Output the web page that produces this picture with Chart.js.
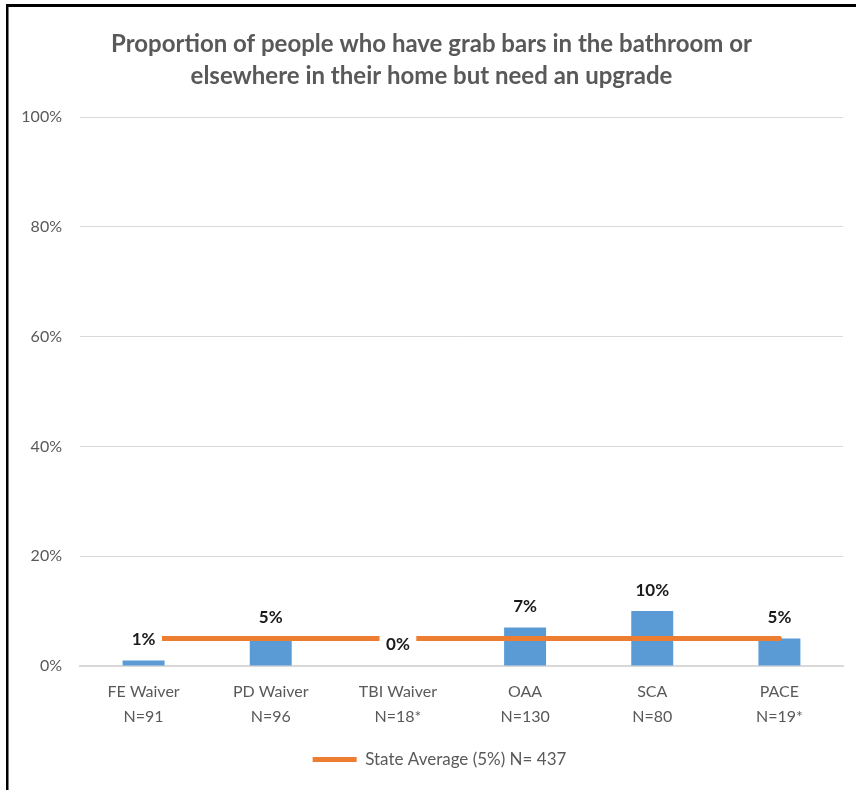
<!DOCTYPE html>
<html>
<head>
<meta charset="utf-8">
<script src="https://cdn.jsdelivr.net/npm/chart.js@4.4.1/dist/chart.umd.min.js"></script>
<style>
  html, body { margin: 0; padding: 0; background: #fff; }
  #wrap { width: 856px; height: 790px; }
</style>
</head>
<body>
<div id="wrap"><canvas id="myChart" width="856" height="790"></canvas></div>
<script>
// program groups, each label is two lines (name + sample size)
const categories = [
    ['FE Waiver', 'N=91'],
    ['PD Waiver', 'N=96'],
    ['TBI Waiver', 'N=18*'],
    ['OAA', 'N=130'],
    ['SCA', 'N=80'],
    ['PACE', 'N=19*']
];
const groupValues = [1, 5, 0, 7, 10, 5];
const stateAverage = [5, 5, 5, 5, 5, 5];
const yTickValues = [0, 20, 40, 60, 80, 100];

const FONT = "'Lato', 'Open Sans', sans-serif";
const GREY = '#595959';

// white page with the black frame on the top and left edges
const framePlugin = {
    id: 'frame',
    beforeDraw(chart) {
        const ctx = chart.ctx;
        ctx.save();
        ctx.fillStyle = '#fff';
        ctx.fillRect(0, 0, chart.width, chart.height);
        ctx.fillStyle = '#000';
        ctx.fillRect(6, 4, chart.width - 6, 3);
        ctx.fillRect(6, 4, 2.5, chart.height - 4);
        ctx.restore();
    },
    // nudge the legend a little to the right of the page centre
    afterLayout(chart) {
        chart.legend.left += 8;
        chart.legend.right += 8;
    }
};

// percent labels above the bars, on a white box so they cut the average line
const valueLabels = {
    id: 'valueLabels',
    afterDatasetsDraw(chart) {
        const ctx = chart.ctx;
        const meta = chart.getDatasetMeta(0);
        ctx.save();
        ctx.font = 'bold 17px ' + FONT;
        ctx.textAlign = 'center';
        ctx.textBaseline = 'middle';
        meta.data.forEach(function(bar, i) {
            const text = groupValues[i] + '%';
            const w = ctx.measureText(text).width + 13;
            const y = bar.y - 21;
            ctx.fillStyle = '#fff';
            ctx.fillRect(bar.x - w / 2, y - 10, w, 20);
            ctx.fillStyle = '#1a1a1a';
            ctx.fillText(text, bar.x, y);
        });
        ctx.restore();
    }
};

var ctx = document.getElementById('myChart');
var myChart = new Chart(ctx, {
    data: {
        labels: categories,
        datasets: [{
            type: 'bar',
            label: 'Group',
            data: groupValues,
            backgroundColor: '#5B9BD5',
            barPercentage: 0.33,
            categoryPercentage: 1,
            order: 1
        }, {
            type: 'line',
            label: 'State Average (5%) N= 437',
            data: stateAverage,
            borderColor: '#ED7D31',
            backgroundColor: '#ED7D31',
            borderWidth: 5,
            borderCapStyle: 'round',
            pointRadius: 0,
            pointStyle: 'line',
            order: 0
        }]
    },
    options: {
        responsive: false,
        animation: false,
        layout: {
            padding: { left: 20, right: 13, top: 0, bottom: 12 }
        },
        plugins: {
            title: {
                display: true,
                text: ['Proportion of people who have grab bars in the bathroom or',
                       'elsewhere in their home but need an upgrade'],
                color: GREY,
                font: { family: FONT, size: 24, weight: 'bold', lineHeight: 32 / 24 },
                padding: { top: 28, bottom: 25 }
            },
            legend: {
                position: 'bottom',
                labels: {
                    filter: function(item) { return item.datasetIndex === 1; },
                    usePointStyle: true,
                    pointStyleWidth: 44,
                    color: GREY,
                    font: { family: FONT, size: 17 },
                    padding: 21
                }
            },
            tooltip: { enabled: false }
        },
        scales: {
            x: {
                afterFit: function(scale) { scale.height = 64; },
                grid: { display: false, drawTicks: false },
                border: { display: true, color: '#d9d9d9', width: 2 },
                ticks: {
                    color: GREY,
                    font: { family: FONT, size: 16, lineHeight: 25 / 16 },
                    padding: 13.5,
                    maxRotation: 0
                }
            },
            y: {
                min: 0,
                max: 100,
                afterFit: function(scale) { scale.width = 60; },
                afterBuildTicks: function(scale) {
                    scale.ticks = yTickValues.map(function(v) { return { value: v }; });
                },
                grid: { color: '#d9d9d9', drawTicks: false },
                border: { display: false },
                ticks: {
                    color: GREY,
                    font: { family: FONT, size: 16 },
                    padding: 18,
                    callback: function(v) { return v + '%'; }
                }
            }
        }
    },
    plugins: [framePlugin, valueLabels]
});
</script>
</body>
</html>
